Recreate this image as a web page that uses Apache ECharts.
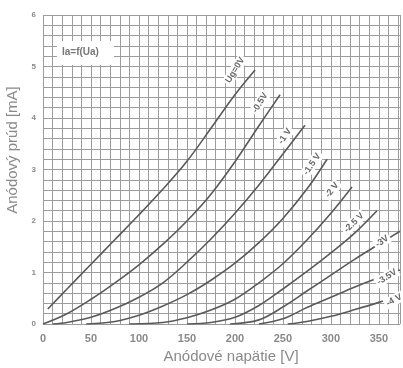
<!DOCTYPE html>
<html>
<head>
<meta charset="utf-8">
<script src="https://cdn.jsdelivr.net/npm/echarts@6/dist/echarts.min.js"></script>
<style>html,body{margin:0;padding:0;background:#fff}#c{width:403px;height:368px}</style>
</head>
<body>
<div id="c"></div>
<script>
// ---- data ----
const curveNames = ['Ug=0V', '-0.5V', '-1 V', '-1.5 V', '-2 V', '-2.5 V', '-3V', '-3.5V', '-4 V'];
const ug0_V   = [5, 25, 50, 75, 100, 125, 150, 175, 200, 221];
const ug0_I   = [0.29, 0.68, 1.16, 1.64, 2.12, 2.62, 3.16, 3.8, 4.45, 4.93];
const ugm05_V = [0, 25, 50, 75, 100, 125, 150, 175, 200, 225, 247];
const ugm05_I = [0, 0.2, 0.48, 0.8, 1.15, 1.55, 2.0, 2.52, 3.15, 3.85, 4.45];
const ugm1_V  = [10, 25, 50, 75, 100, 125, 150, 175, 200, 225, 250, 273];
const ugm1_I  = [0, 0.03, 0.13, 0.3, 0.52, 0.8, 1.2, 1.65, 2.15, 2.7, 3.3, 3.86];
const ugm15_V = [45, 75, 100, 125, 150, 175, 200, 225, 250, 275, 296];
const ugm15_I = [0, 0.05, 0.17, 0.35, 0.57, 0.85, 1.18, 1.58, 2.05, 2.62, 3.2];
const ugm2_V  = [90, 125, 150, 175, 200, 225, 250, 275, 300, 322];
const ugm2_I  = [0, 0.03, 0.12, 0.27, 0.48, 0.8, 1.17, 1.63, 2.15, 2.66];
const ugm25_V = [150, 175, 200, 225, 250, 275, 300, 325, 348];
const ugm25_I = [0, 0.03, 0.13, 0.36, 0.68, 1.02, 1.38, 1.77, 2.2];
const ugm3_V  = [195, 225, 250, 275, 300, 325, 350, 372];
const ugm3_I  = [0, 0.08, 0.33, 0.64, 0.95, 1.26, 1.55, 1.8];
const ugm35_V = [225, 250, 275, 300, 325, 350, 372];
const ugm35_I = [0, 0.1, 0.32, 0.52, 0.72, 0.9, 1.05];
const ugm4_V  = [255, 275, 300, 325, 350, 372];
const ugm4_I  = [0, 0.05, 0.15, 0.28, 0.42, 0.56];
const xTickLabels = [0, 50, 100, 150, 200, 250, 300, 350];
const yTickLabels = [0, 1, 2, 3, 4, 5, 6];

// ---- styling (not data) ----
const curvesV = [ug0_V, ugm05_V, ugm1_V, ugm15_V, ugm2_V, ugm25_V, ugm3_V, ugm35_V, ugm4_V];
const curvesI = [ug0_I, ugm05_I, ugm1_I, ugm15_I, ugm2_I, ugm25_I, ugm3_I, ugm35_I, ugm4_I];
const labelRot = [58, 58, 55, 55, 52, 45, 35, 32, 28];
// desired screen offsets of label centre from the line end
const labelOff = [[-20, 0], [-20, 8], [-20, 11], [-15, 5], [-20, 3], [-23, 12], [-18, 10], [-13, 7], [-6, 5]];
function localOffset(off, deg) {
  const t = deg * Math.PI / 180, c = Math.cos(t), s = Math.sin(t);
  return [off[0] * c - off[1] * s, off[0] * s + off[1] * c];
}

const FONT = 'Liberation Sans, Arial, sans-serif';
const GRID = '#9c9c9c';

const series = curvesV.map((vs, k) => ({
  type: 'line',
  smooth: 0.35,
  showSymbol: true,
  symbolSize: 0,
  lineStyle: { color: '#5a5a5a', width: 1.6 },
  itemStyle: { color: '#5a5a5a' },
  z: 3,
  data: vs.map((v, i) => {
    const item = { value: [v, curvesI[k][i]] };
    if (i === vs.length - 1) {
      item.label = {
        show: true,
        formatter: curveNames[k],
        position: 'inside',
        offset: localOffset(labelOff[k], labelRot[k]),
        rotate: labelRot[k],
        color: '#666',
        fontFamily: FONT,
        fontWeight: 'bold',
        fontSize: 9,
        backgroundColor: '#fff',
        padding: [1, 2]
      };
    }
    return item;
  })
}));

const chart = echarts.init(document.getElementById('c'), null, { renderer: 'canvas' });
chart.setOption({
  animation: false,
  backgroundColor: '#fff',
  grid: { left: 43, right: 0, top: 15, bottom: 44 },
  xAxis: {
    type: 'value', min: 0, max: 372, interval: 10,
    axisLine: { show: false }, axisTick: { show: false },
    splitLine: { show: true, lineStyle: { color: GRID, width: 1 } },
    axisLabel: {
      margin: 9, color: '#8a8a8a', fontFamily: FONT, fontSize: 11, fontWeight: 'bold',
      formatter: v => (xTickLabels.indexOf(v) >= 0 ? String(v) : '')
    }
  },
  yAxis: {
    type: 'value', min: 0, max: 6, interval: 0.2,
    axisLine: { show: false }, axisTick: { show: false },
    splitLine: { show: true, lineStyle: { color: GRID, width: 1 } },
    axisLabel: {
      margin: 7, color: '#8a8a8a', fontFamily: FONT, fontSize: 8, fontWeight: 'bold',
      formatter: v => {
        const r = Math.round(v);
        return (Math.abs(v - r) < 1e-6 && yTickLabels.indexOf(r) >= 0) ? String(r) : '';
      }
    }
  },
  graphic: [
    { type: 'rect', left: 57, top: 41, shape: { width: 57, height: 24 }, style: { fill: '#fff' }, z: 10 },
    { type: 'text', left: 62, top: 47, z: 11,
      style: { text: 'Ia=f(Ua)', fill: '#777', font: 'bold 10px ' + FONT } },
    { type: 'text', x: 13, y: 150, rotation: Math.PI / 2, z: 11,
      style: { text: 'Anódový prúd [mA]', fill: '#8a8a8a', font: '15px ' + FONT, align: 'center', verticalAlign: 'middle' } },
    { type: 'text', x: 231, y: 357, z: 11,
      style: { text: 'Anódové napätie [V]', fill: '#8a8a8a', font: '15px ' + FONT, align: 'center', verticalAlign: 'middle' } }
  ],
  series: series
});
</script>
</body>
</html>
